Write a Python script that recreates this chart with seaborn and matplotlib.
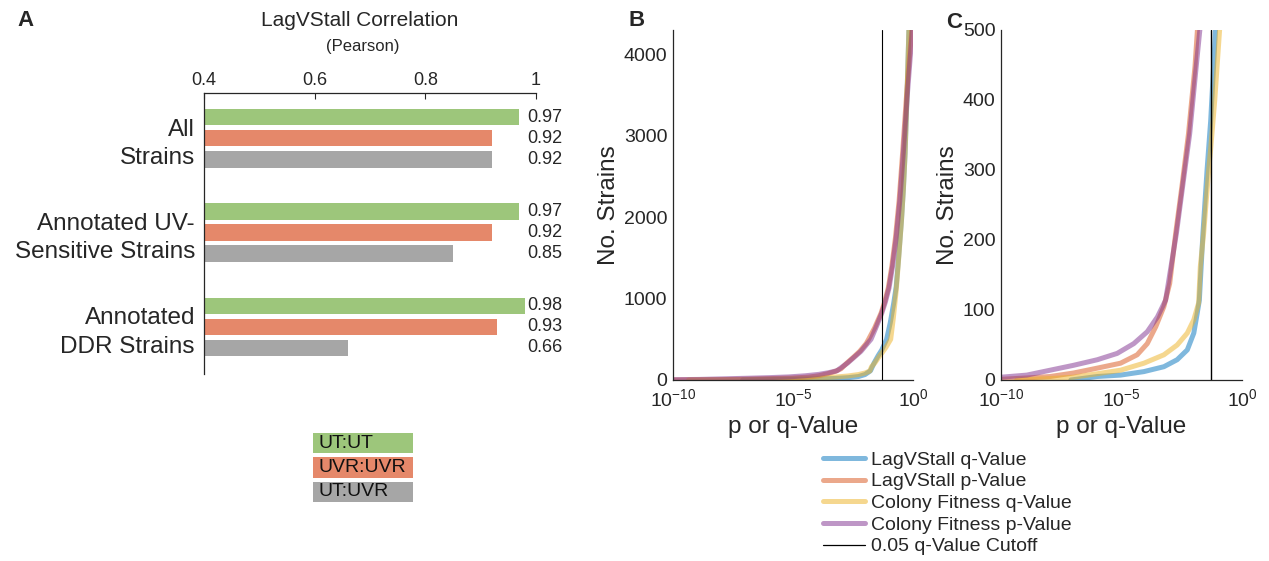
import numpy as np
import pandas as pd
import matplotlib
matplotlib.use("Agg")
import matplotlib.pyplot as plt
from matplotlib.lines import Line2D
from matplotlib.ticker import FixedLocator, LogLocator, NullFormatter, LogFormatterSciNotation
import seaborn as sns

# ---------------- data ----------------
categories = ["All\nStrains", "Annotated UV-\nSensitive Strains", "Annotated\nDDR Strains"]
conditions = ["UT:UT", "UVR:UVR", "UT:UVR"]
ut_ut = [0.97, 0.97, 0.98]
uvr_uvr = [0.92, 0.92, 0.93]
ut_uvr = [0.92, 0.85, 0.66]
bar_colors = ["#9dc67b", "#e5886a", "#a6a6a6"]

# cumulative number of strains below a given p / q value (x given as log10 of the value)
lag_q_log = [-7.1, -6.0, -5.04, -4.07, -3.24, -2.69, -2.27, -2.0, -1.86, -1.77, -1.62, -1.45, -1.30, -1.10,
             -0.95, -0.80, -0.70, -0.60, -0.48, -0.40, -0.33, -0.25, -0.20, -0.17]
lag_q_cnt = [0, 5, 7, 12, 19, 29, 43, 67, 95, 114, 210, 300, 370, 500,
             700, 950, 1145, 1500, 1963, 2350, 2782, 3500, 4000, 4300]

lag_p_log = [-10.0, -8.9, -7.96, -6.99, -6.0, -5.04, -4.35, -3.93, -3.58, -3.24, -3.0, -2.75, -2.48, -2.22,
             -1.95, -1.85, -1.60, -1.33, -1.18, -1.03, -0.88, -0.73, -0.58, -0.43, -0.28, -0.15, -0.05]
lag_p_cnt = [1, 3, 5, 10, 17, 24, 36, 52, 76, 105, 138, 210, 280, 352,
             448, 500, 640, 822, 960, 1130, 1400, 1750, 2200, 2800, 3450, 3950, 4300]

col_q_log = [-9.35, -8.0, -6.99, -6.0, -5.04, -4.07, -3.24, -2.69, -2.27, -2.0, -1.80, -1.73, -1.59, -1.37,
             -1.30, -1.13, -0.93, -0.82, -0.70, -0.60, -0.48, -0.40, -0.33, -0.25, -0.20, -0.17]
col_q_cnt = [0, 2, 4, 9, 14, 24, 36, 50, 67, 86, 110, 162, 210, 305,
             330, 400, 500, 760, 1100, 1480, 1963, 2350, 2782, 3500, 4000, 4300]

col_p_log = [-10.0, -8.93, -7.96, -6.99, -6.0, -5.18, -4.49, -3.93, -3.51, -3.17, -2.72, -2.45, -2.17, -1.9,
             -1.75, -1.55, -1.30, -1.15, -1.0, -0.85, -0.70, -0.55, -0.40, -0.25, -0.12, -0.03]
col_p_cnt = [4, 7, 14, 21, 29, 38, 52, 69, 90, 114, 210, 280, 352, 448,
             500, 640, 822, 960, 1130, 1400, 1750, 2200, 2800, 3450, 3950, 4300]

series_labels = ["LagVStall q-Value", "LagVStall p-Value", "Colony Fitness q-Value", "Colony Fitness p-Value"]
series_colors = ["#0072bd", "#d95319", "#edb120", "#7e2f8e"]
cutoff = 0.05

# ---------------- style ----------------
sns.set_style("white")
plt.rcParams["font.family"] = ["Liberation Sans", "DejaVu Sans"]
plt.rcParams["mathtext.default"] = "regular"
TXT = "#262626"
plt.rcParams["text.color"] = TXT
plt.rcParams["axes.labelcolor"] = TXT
plt.rcParams["xtick.color"] = TXT
plt.rcParams["ytick.color"] = TXT
plt.rcParams["axes.edgecolor"] = TXT

W, H = 1269, 561
fig = plt.figure(figsize=(W / 100, H / 100), dpi=100)


def rect(l, t, r, b):
    return [l / W, 1 - b / H, (r - l) / W, (b - t) / H]


# ---------------- Panel A ----------------
axA = fig.add_axes(rect(204, 93, 536, 374))
df = pd.DataFrame({
    "category": categories * 3,
    "condition": sum([[c] * 3 for c in conditions], []),
    "value": ut_ut + uvr_uvr + ut_uvr,
})
sns.barplot(data=df, x="value", y="category", hue="condition", hue_order=conditions,
            order=categories, palette=bar_colors, orient="h", width=0.67, gap=0.22,
            saturation=1, legend=False, ax=axA, edgecolor="none")
axA.set_xlim(0.4, 1.0)
axA.set_ylim(2.5, -0.48)
axA.xaxis.tick_top()
axA.set_xticks([0.4, 0.6, 0.8, 1.0])
axA.set_xticklabels(["0.4", "0.6", "0.8", "1"])
axA.set_xlabel("")
axA.set_ylabel("")
axA.tick_params(axis="x", direction="in", length=4, width=0.8, labelsize=13, pad=3)
axA.tick_params(axis="y", direction="in", length=4, width=0.8, labelsize=17.5, pad=6.5)
for lab in axA.get_yticklabels():
    lab.set_linespacing(1.37)
for s in ["right", "bottom"]:
    axA.spines[s].set_visible(False)
for s in ["top", "left"]:
    axA.spines[s].set_linewidth(0.9)
for cont, vals in zip(axA.containers, [ut_ut, uvr_uvr, ut_uvr]):
    for bar, v in zip(cont, vals):
        axA.text(0.985, bar.get_y() + bar.get_height() / 2, f"{v:.2f}", ha="left", va="center",
                 fontsize=13, color=TXT, clip_on=False)

fig.text(360 / W, 1 - 20 / H, "LagVStall Correlation", ha="center", va="center", fontsize=15)
fig.text(363 / W, 1 - 46 / H, "(Pearson)", ha="center", va="center", fontsize=12)

# legend for panel A
axL = fig.add_axes(rect(313, 433, 413, 502))
axL.barh([0, 1, 2], [1, 1, 1], height=0.82, color=bar_colors, edgecolor="none")
axL.set_xlim(0, 1)
axL.set_ylim(2.41, -0.41)
axL.axis("off")
for i, c in enumerate(conditions):
    axL.text(0.06, i, c, ha="left", va="center", fontsize=14, color="#111111")

# ---------------- Panels B and C ----------------
series = [(lag_q_log, lag_q_cnt), (lag_p_log, lag_p_cnt), (col_q_log, col_q_cnt), (col_p_log, col_p_cnt)]


def curve_panel(ax, ymax, yticks, vlw):
    for (lg, cnt), col in zip(series, series_colors):
        sns.lineplot(x=10.0 ** np.array(lg), y=cnt, ax=ax, color=col, alpha=0.5, lw=3.6,
                     estimator=None, sort=False)
    ax.axvline(cutoff, color="black", lw=vlw)
    ax.set_xscale("log")
    ax.set_xlim(1e-10, 1)
    ax.set_ylim(0, ymax)
    ax.xaxis.set_major_locator(FixedLocator([1e-10, 1e-5, 1]))
    ax.xaxis.set_major_formatter(LogFormatterSciNotation())
    ax.xaxis.set_minor_locator(LogLocator(base=10, subs=(1.0,), numticks=30))
    ax.xaxis.set_minor_formatter(NullFormatter())
    ax.set_yticks(yticks)
    ax.tick_params(axis="both", which="major", direction="in", length=4, width=0.8, labelsize=14)
    ax.tick_params(axis="x", which="major", pad=6)
    ax.tick_params(axis="y", which="major", pad=4)
    ax.tick_params(axis="x", which="minor", direction="in", length=3, width=0.7)
    for s in ["right", "top"]:
        ax.spines[s].set_visible(False)
    for s in ["left", "bottom"]:
        ax.spines[s].set_linewidth(0.9)
    ax.set_xlabel("p or q-Value", fontsize=17.5, labelpad=4)
    ax.set_ylabel("No. Strains", fontsize=17.5, labelpad=3)


axB = fig.add_axes(rect(673, 30, 913, 380))
curve_panel(axB, 4300, [0, 1000, 2000, 3000, 4000], 0.8)
axC = fig.add_axes(rect(1001, 30, 1242, 380))
curve_panel(axC, 500, [0, 100, 200, 300, 400, 500], 1.0)

handles = [Line2D([], [], color=c, alpha=0.5, lw=3.6) for c in series_colors]
handles.append(Line2D([], [], color="black", lw=0.9))
fig.legend(handles, series_labels + ["0.05 q-Value Cutoff"], loc="upper left",
           bbox_to_anchor=(823 / W, 1 - 451 / H), frameon=False, fontsize=14,
           handlelength=2.15, handletextpad=0.3, labelspacing=0.21, borderpad=0, borderaxespad=0)

# panel letters
fig.text(25 / W, 1 - 20 / H, "A", ha="center", va="center", fontsize=16, fontweight="bold")
fig.text(637 / W, 1 - 20 / H, "B", ha="center", va="center", fontsize=16, fontweight="bold")
fig.text(954 / W, 1 - 22 / H, "C", ha="center", va="center", fontsize=16, fontweight="bold")

fig.savefig("out.png", dpi=100, facecolor="white")
